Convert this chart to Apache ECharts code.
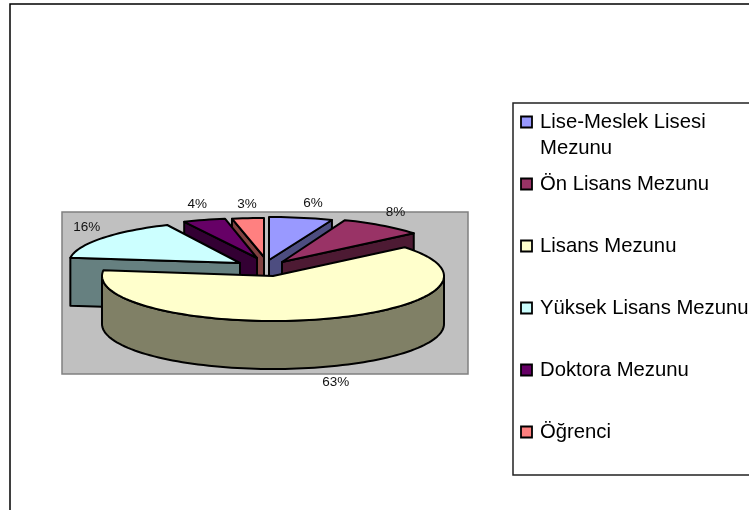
<!DOCTYPE html>
<html>
<head>
<meta charset="utf-8">
<style>html,body{margin:0;padding:0;background:#fff}#chart{width:749px;height:510px}</style>
<script src="https://cdn.jsdelivr.net/npm/echarts@6/dist/echarts.min.js"></script>
</head>
<body>
<div id="chart"></div>
<script>
// Education level shares, clockwise from twelve o'clock.
const categories = ['Lise-Meslek Lisesi\nMezunu', 'Ön Lisans Mezunu', 'Lisans Mezunu', 'Yüksek Lisans Mezunu', 'Doktora Mezunu', 'Öğrenci'];
const shares = [6, 8, 63, 16, 4, 3];

const topColors = ['#9999FF', '#993366', '#FFFFCC', '#CCFFFF', '#660066', '#FF8080'];
const wallColors = ['#4D4D80', '#4D1A33', '#808066', '#668080', '#330033', '#804040'];

// Pie geometry: ellipse radii, extrusion depth and the resting centre.
const PIE = { cx: 273, cy: 276, a: 171, b: 45, depth: 48 };
// Explosion of each slice away from the centre, and the height of its ellipse.
const explode = [[-4, -16], [9, -14], [0, 0], [-33, -13], [-16, -18], [-9, -19]];
const radiusB = [43, 45, 45, 42, 40, 39];
// Painter's order, back of the pie first.
const zOrder = [3, 4, 6, 5, 2, 1];
// Label nudges relative to the slice's rim midpoint.
const labelNudge = [[12, -14], [13, -13], [15, 63], [-15, -11], [-7, -16], [-1, -14]];

const total = shares.reduce((s, v) => s + v, 0);
const rad = d => d * Math.PI / 180;

function rim(i, deg) {
  return [
    PIE.cx + explode[i][0] + PIE.a * Math.sin(rad(deg)),
    PIE.cy + explode[i][1] - radiusB[i] * Math.cos(rad(deg))
  ];
}

function arcPoints(i, from, to) {
  const pts = [];
  const n = Math.max(2, Math.ceil(Math.abs(to - from) / 2));
  for (let k = 0; k <= n; k++) pts.push(rim(i, from + (to - from) * k / n));
  return pts;
}

function sliceAngles(i) {
  const before = shares.slice(0, i).reduce((s, v) => s + v, 0);
  return [before / total * 360, (before + shares[i]) / total * 360];
}

const edge = { stroke: '#000', lineWidth: 2, lineJoin: 'round' };

function drawSlice(i, value) {
  const [start, end] = sliceAngles(i);
  const apex = [PIE.cx + explode[i][0], PIE.cy + explode[i][1]];
  const down = p => [p[0], p[1] + PIE.depth];
  const children = [];
  const wall = points => children.push({
    type: 'polygon', shape: { points },
    style: Object.assign({ fill: wallColors[i] }, edge)
  });
  // Cut faces turned towards the viewer.
  if (end <= 180) {
    const p = rim(i, end);
    wall([apex, p, down(p), down(apex)]);
  }
  if (start >= 180) {
    const p = rim(i, start);
    wall([apex, p, down(p), down(apex)]);
  }
  // Curved outer face on the front half of the ellipse.
  const a0 = Math.max(start, 90), a1 = Math.min(end, 270);
  if (a1 > a0) {
    const arc = arcPoints(i, a0, a1);
    wall(arc.concat(arc.map(down).reverse()));
  }
  children.push({
    type: 'polygon',
    shape: { points: [apex].concat(arcPoints(i, start, end)) },
    style: Object.assign({ fill: topColors[i] }, edge)
  });
  // Percentage label.
  const m = rim(i, (start + end) / 2);
  children.push({
    type: 'text',
    style: {
      text: Math.round(value / total * 100) + '%',
      x: m[0] + labelNudge[i][0],
      y: m[1] + labelNudge[i][1],
      fill: '#111',
      font: '13.5px "Liberation Sans"',
      align: 'center',
      verticalAlign: 'middle'
    }
  });
  return { type: 'group', children };
}

const series = categories.map((name, i) => ({
  type: 'custom',
  name: name.replace('\n', ' '),
  coordinateSystem: 'none',
  silent: true,
  z: 10 + zOrder[i],
  data: [[shares[i]]],
  renderItem: (params, api) => drawSlice(i, api.value(0))
}));

// Legend rows: swatch plus text.
const legendTop = 121, legendStep = 62, legendGeom = { swatchX: 521, textX: 540 };
const legendElements = [];
categories.forEach((name, i) => {
  const y = legendTop + i * legendStep;
  legendElements.push({
    type: 'rect', z: 3,
    shape: { x: legendGeom.swatchX, y: y - 4.5, width: 11, height: 11 },
    style: { fill: topColors[i], stroke: '#000', lineWidth: 1.8 }
  });
  legendElements.push({
    type: 'text', z: 3,
    style: {
      text: name, x: legendGeom.textX, y: y - 11.5,
      fill: '#000', font: '20.3px "Liberation Sans"', lineHeight: 26,
      align: 'left', verticalAlign: 'top'
    }
  });
});

const chart = echarts.init(document.getElementById('chart'), null, { renderer: 'canvas' });
chart.setOption({
  animation: false,
  backgroundColor: '#fff',
  graphic: [
    { type: 'rect', z: 1, shape: { x: 10, y: 4, width: 800, height: 600 }, style: { fill: '#fff', stroke: '#000', lineWidth: 1.5 } },
    { type: 'rect', z: 2, shape: { x: 62, y: 212, width: 406, height: 162 }, style: { fill: '#C0C0C0', stroke: '#808080', lineWidth: 1.5 } },
    { type: 'rect', z: 2, shape: { x: 513, y: 103, width: 300, height: 372 }, style: { fill: '#fff', stroke: '#222', lineWidth: 1.5 } }
  ].concat(legendElements),
  series
});
</script>
</body>
</html>
